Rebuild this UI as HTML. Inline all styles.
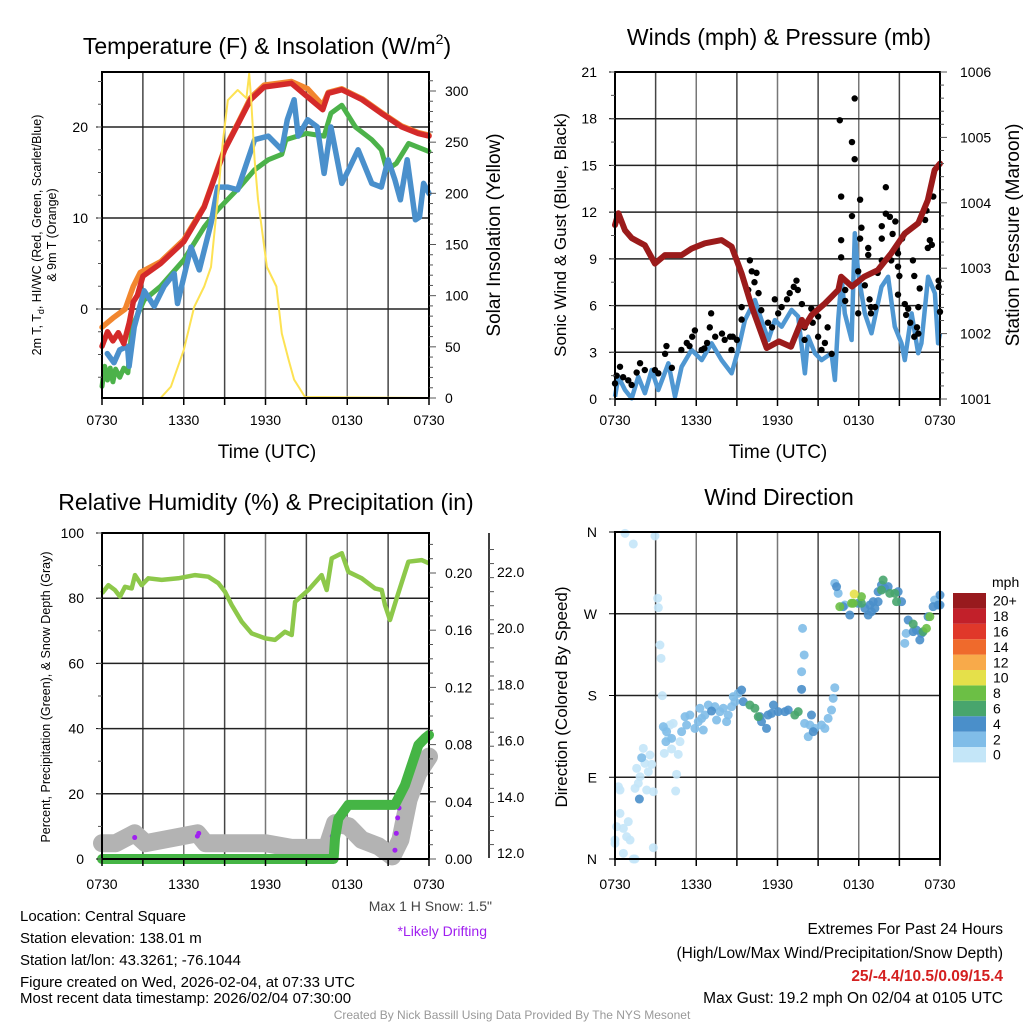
<!DOCTYPE html>
<html><head><meta charset="utf-8">
<style>
body{margin:0;background:#fff;}
svg{display:block;font-family:"Liberation Sans",sans-serif;}
</style></head>
<body>
<svg id="s" width="1024" height="1024" viewBox="0 0 1024 1024" xmlns="http://www.w3.org/2000/svg">
<rect width="1024" height="1024" fill="#fff"/>
<g id="g1"></g>
<g id="g2"></g>
<g id="g3"></g>
<g id="g4"></g>
<g id="txt">
<text x="267" y="54" font-size="23" text-anchor="middle">Temperature (F) &amp; Insolation (W/m<tspan font-size="14" dy="-10">2</tspan><tspan dy="10">)</tspan></text>
<text x="779" y="45" font-size="23" text-anchor="middle">Winds (mph) &amp; Pressure (mb)</text>
<text x="266" y="510" font-size="23" text-anchor="middle">Relative Humidity (%) &amp; Precipitation (in)</text>
<text x="779" y="505" font-size="23" text-anchor="middle">Wind Direction</text>
<text x="267" y="458" font-size="19" text-anchor="middle">Time (UTC)</text>
<text x="778" y="458" font-size="19" text-anchor="middle">Time (UTC)</text>
<text transform="translate(41,235) rotate(-90)" font-size="12.5" text-anchor="middle">2m T, T<tspan font-size="9" dy="3">d</tspan><tspan dy="-3">, HI/WC (Red, Green, Scarlet/Blue)</tspan></text>
<text transform="translate(56,235) rotate(-90)" font-size="12.5" text-anchor="middle">&amp; 9m T (Orange)</text>
<text transform="translate(500,235) rotate(-90)" font-size="19" text-anchor="middle">Solar Insolation (Yellow)</text>
<text transform="translate(566,235) rotate(-90)" font-size="17" text-anchor="middle">Sonic Wind &amp; Gust (Blue, Black)</text>
<text transform="translate(1019,235) rotate(-90)" font-size="19" text-anchor="middle">Station Pressure (Maroon)</text>
<text transform="translate(50,697) rotate(-90)" font-size="12.5" text-anchor="middle">Percent, Precipitation (Green), &amp; Snow Depth (Gray)</text>
<text transform="translate(567,697) rotate(-90)" font-size="17" text-anchor="middle">Direction (Colored By Speed)</text>
<text x="492" y="911" font-size="14" fill="#444" text-anchor="end">Max 1 H Snow: 1.5"</text>
<text x="487" y="936" font-size="14" fill="#a020f0" text-anchor="end">*Likely Drifting</text>
<g font-size="15">
<text x="20" y="921">Location: Central Square</text>
<text x="20" y="943">Station elevation: 138.01 m</text>
<text x="20" y="965">Station lat/lon: 43.3261; -76.1044</text>
<text x="20" y="987">Figure created on Wed, 2026-02-04, at 07:33 UTC</text>
<text x="20" y="1003">Most recent data timestamp: 2026/02/04 07:30:00</text>
</g>
<g font-size="15.5" text-anchor="end">
<text x="1003" y="934">Extremes For Past 24 Hours</text>
<text x="1003" y="958">(High/Low/Max Wind/Precipitation/Snow Depth)</text>
<text x="1003" y="981" font-weight="bold" fill="#d42020">25/-4.4/10.5/0.09/15.4</text>
<text x="1003" y="1003">Max Gust: 19.2 mph On 02/04 at 0105 UTC</text>
</g>
<text x="512" y="1019" font-size="12" fill="#999" text-anchor="middle">Created By Nick Bassill Using Data Provided By The NYS Mesonet</text>
</g>
</svg>
<script>
// ===== Panel 1 data =====
const tempRedT=[0,0.4,0.8,1.2,1.6,2.0,2.3,2.6,3.0,4.3,6.0,7.5,9.0,10.0,10.9,11.9,12.9,13.9,15.1,16.2,16.6,17.6,19.1,20.5,22.0,23.2,24];
const tempRedV=[-4.1,-2.5,-3.5,-2.6,-3.8,-1.5,0.8,1.5,3.6,5.0,7.4,11.2,17.5,20.4,23.0,24.4,24.6,24.8,23.3,21.9,23.7,24.1,23.0,21.5,20.0,19.3,19.0];
const tempOrangeT=[0,0.8,1.7,2.3,2.8,4.3,6.0,7.5,9.0,10.0,10.9,11.9,12.9,13.9,15.1,16.2,16.6,17.6,19.1,20.5,22.0,23.2,24];
const tempOrangeV=[-2,-1,0,2.5,4.0,5.2,7.6,11.3,17.6,20.5,23.2,24.6,24.8,25.0,24.2,22.4,23.8,24.2,23.1,21.6,20.1,19.4,19.1];
const dewT=[0,0.2,0.4,0.6,0.8,1.0,1.3,1.6,1.9,2.2,3.1,4.3,6.0,7.5,8.5,9.2,10.1,11.2,12.2,13.2,13.5,15.0,16.3,16.8,17.6,18.6,19.8,20.5,20.9,21.6,22.5,24];
const dewV=[-8.5,-6.3,-7.8,-6.5,-8.0,-6.6,-7.5,-6.5,-7.0,-2.0,1.0,2.5,5.4,9.0,10.9,12.0,13.4,15.3,16.4,17.0,18.6,19.3,19.0,21.5,22.4,20.0,18.6,17.5,15.3,16.0,18.2,17.3];
const wcT=[0.39,0.88,1.3,1.87,1.99,2.36,3.09,3.83,4.56,5.30,5.54,6.53,7.14,8.0,8.49,9.23,9.96,10.7,11.2,12.2,13.2,13.6,14.1,14.4,15.1,15.8,16.3,16.8,17.6,18.1,18.8,19.8,20.5,21.0,21.5,21.9,22.4,23.0,23.3,23.6,24];
const wcV=[-4.9,-5.9,-4.5,-4.1,-6.3,-2.0,2.0,0.3,2.5,3.9,0.6,6.8,4.3,9.4,13.4,13.4,13.1,16.4,18.6,19.0,17.5,20.8,23.0,19.0,20.8,20.0,14.9,20.0,13.8,15.3,17.5,13.8,13.4,16.4,14.2,12.0,16.4,9.8,10.1,13.8,12.7];
const solarT=[0,4.3,5.06,6.0,6.77,7.5,8.0,8.49,8.86,9.23,9.96,10.6,10.8,10.94,11.2,11.45,12.1,12.8,13.2,13.7,14.1,14.9,24];
const solarV=[0,0,11,47,89,109,128,194,249,291,301,293,317,293,233,194,128,109,63,37,18,1,0];
const timeTicks=['0730','1330','1930','0130','0730'];
const tempTicks=[0,10,20];
const solarTicks=[0,50,100,150,200,250,300];
// ===== Panel 2 data =====
const windT=[0,0.25,0.74,1.23,1.72,2.21,2.71,3.2,3.94,4.43,4.92,5.66,6.4,7.13,7.87,8.61,9.1,9.59,10.33,10.82,11.32,11.81,12.3,13.04,13.53,14.02,14.27,14.76,15.25,15.99,16.24,16.48,16.73,16.97,17.47,17.71,17.96,18.45,18.94,19.68,20.17,20.66,21.16,21.4,21.9,22.39,22.63,23.12,23.62,23.86,24];
const windV=[0.15,1.43,0.58,0.04,1.43,0.37,1.86,0.58,2.29,0.15,2.07,3.15,2.5,3.58,2.5,1.65,3.15,5.07,6.36,5.07,3.79,5.07,4.64,5.72,5.29,1.65,4.0,2.94,2.5,2.94,1.22,5.07,7.85,5.5,3.79,10.64,8.07,5.5,4.22,7.21,7.85,4.64,3.58,2.5,5.5,2.94,3.58,7.85,6.79,3.58,4.22];
const gustT=[16.6,17.7,17.5,17.7,16.7,18.1,17.5,18.2,16.7,16.7,18.1,20.0,20.0,20.3,19.7,20.5,20.7,19.7,21.2,20.8,20.9,20.4,19.7,20.9,19.4,21.0,18.7,18.7,17.96,18.45,18.9,19.2,20.9,22.0,22.1,22.5,22.9,23.0,23.1,23.4,23.25,23.5,23.9,23.9,24.0,21.4,21.65,21.5,22.4,21.8,22.3,22.4,22.1,17.0,17.0,17.96,18.8,18.9,9.96,10.1,10.45,10.3,9.84,9.35,9.35,10.6,10.8,11.3,11.6,11.8,12.05,12.3,12.7,12.9,13.2,13.4,13.5,13.8,14.5,14.0,14.6,15.0,15.5,15.7,15.25,16.0,14.0,15.0,0,0.12,0.37,0.6,0.98,1.23,1.6,1.85,2.2,2.95,3.2,3.7,3.8,4.2,4.9,5.3,5.7,5.9,6.4,6.8,7.0,7.1,7.4,7.9,8.1,8.5,8.7,9.0,8.6,6.6,5.5];
const gustV=[17.9,19.3,16.5,15.4,13.0,12.8,11.75,11.0,10.2,9.1,10.3,13.6,11.9,11.7,11.1,10.6,11.4,10.3,10.3,9.6,9.35,8.9,8.9,8.5,8.1,7.9,9.7,9.25,8.2,7.3,5.9,5.9,6.7,8.9,7.9,7.1,11.5,12.1,9.7,9.9,10.2,13.0,7.6,7.2,5.6,6.1,5.8,5.4,5.9,4.9,4.6,4.2,4.0,7.0,6.3,5.5,6.4,5.5,8.9,8.2,8.1,7.5,7.0,5.9,5.1,6.8,5.7,4.9,4.6,6.4,5.5,5.9,6.4,6.8,7.2,7.6,7.0,6.1,5.8,4.6,4.9,4.0,3.6,4.6,3.15,2.9,3.8,5.3,1.0,1.5,2.07,1.4,1.2,0.9,1.7,2.3,1.86,1.86,1.65,2.9,3.4,2.0,3.15,3.6,4.0,4.4,3.15,3.6,4.6,5.5,4.0,4.2,3.8,4.0,4.0,3.8,3.15,3.25,3.4];
const presT=[0,0.25,0.74,1.23,2.21,2.95,3.69,4.92,5.66,6.64,7.87,8.61,9.35,10.1,11.2,12.1,13.0,13.8,14.0,14.5,15.5,16.5,16.7,17.5,18.4,19.4,20.4,21.4,22.4,23.1,23.6,24];
const presV=[1003.66,1003.84,1003.58,1003.46,1003.35,1003.07,1003.20,1003.20,1003.30,1003.38,1003.43,1003.33,1002.92,1002.41,1001.78,1001.88,1001.80,1002.21,1002.11,1002.28,1002.46,1002.67,1002.87,1002.72,1002.87,1002.97,1003.23,1003.53,1003.69,1004.04,1004.50,1004.60];
const windTicks=[0,3,6,9,12,15,18,21];
const presTicks=[1001,1002,1003,1004,1005,1006];
// ===== Panel 3 data =====
const rhT=[0,0.47,0.95,1.32,1.69,2.18,2.42,2.91,3.4,4.38,5.6,6.83,7.8,8.54,9.03,9.52,10.25,10.99,11.97,12.7,13.43,13.92,14.17,15.15,16.12,16.49,16.86,17.6,18.08,19.06,20.04,20.53,20.77,21.14,21.63,22.49,23.46,24];
const rhV=[81.5,84.0,82.5,80.5,83.5,83.0,87.1,84.0,86.1,85.6,86.1,87.1,86.6,84.6,82.0,77.9,72.8,69.2,67.7,67.2,69.7,68.7,78.9,82.5,87.1,82.5,92.2,93.8,88.1,86.1,83.0,82.5,77.9,73.3,80.0,91.2,91.7,90.7];
const precipT=[0,17.0,17.1,17.35,18.08,21.5,22.24,22.73,23.22,23.7,24];
const precipV=[0,0,0.0145,0.0284,0.0378,0.0378,0.0517,0.0657,0.0797,0.0844,0.0867];
const snowT=[0,1.0,2.4,3.2,7.0,7.6,12.0,13.9,16.5,17.1,18.1,19.06,20.3,21.3,21.9,22.5,23.2,24];
const snowV=[12.35,12.35,12.7,12.35,12.7,12.35,12.35,12.18,12.18,13.06,12.95,12.47,12.24,11.88,12.47,13.9,14.84,15.43];
const driftT=[2.4,7.0,7.1,16.9,17.4,21.5,21.6,21.7,21.8];
const driftV=[12.55,12.6,12.7,12.6,13.05,12.1,12.7,13.25,13.6];
const rhTicks=[0,20,40,60,80,100];
const precipTicks=['0.00','0.04','0.08','0.12','0.16','0.20'];
const snowTicks=['12.0','14.0','16.0','18.0','20.0','22.0'];
// ===== Panel 4 data =====
const dirT=[0.74,1.35,2.95,3.15,3.2,3.32,3.4,3.49,0.25,0.37,0.37,0.12,0.62,0.98,0.86,1.11,0,0,0.62,1.35,1.48,2.83,2.83,1.72,1.48,2.34,2.46,1.6,1.85,2.09,2.58,2.71,2.21,4.55,4.48,4.67,4.18,4.8,3.64,3.69,4.06,4.3,3.94,
1.97,3.76,3.81,4.18,4.92,5.17,5.53,5.29,5.9,6.15,6.4,6.52,6.27,6.64,6.89,7.38,7.5,7.75,8.0,8.24,8.36,8.61,8.73,9.1,8.86,3.57,14.0,14.27,14.76,15.25,15.5,15.74,15.99,16.11,16.23,13.97,13.78,13.85,14.39,16.23,16.48,16.97,21.4,21.5,23.6,
1.8,7.13,9.35,9.47,10.82,11.19,11.3,11.7,11.56,12.05,12.55,12.79,13.78,14.51,14.64,10.7,16.36,16.85,17.34,17.96,18.45,18.7,18.94,19.19,18.82,19.07,19.43,19.43,19.68,19.92,20.17,20.91,21.16,21.65,22.02,22.51,22.63,23.49,23.86,24,24,22.26,23.12,
19.8,19.68,20.29,20.66,20.79,18.2,22.02,22.75,9.96,10.33,10.58,13.28,13.53,
17.59,16.6,17.47,23.0,23.25,18.2,17.66];
const dirV=[358.5,346.8,355.6,287.0,276.7,235.6,220.9,179.8,79.6,75.9,50.2,35.6,33.7,41.1,24.6,20.9,20.9,17.2,6.2,0,0,12.4,74.1,83.3,77.8,75.9,96.1,99.8,90.6,121.8,114.5,104.2,105.3,93.2,74.8,115.2,121.1,129.2,116.3,143.1,147.5,149.3,132.8,
111.5,129.2,140.2,132.8,140.2,156.7,158.5,147.5,143.8,151.2,154.8,142.0,165.9,158.5,169.5,167.7,153.0,162.2,165.9,151.2,158.5,167.7,178.7,182.4,173.2,145.7,149.3,134.7,143.8,147.5,143.8,154.8,164.0,176.9,188.6,224.6,206.2,253.9,147.5,303.5,292.5,279.6,237.4,248.4,285.1,
66.0,162.9,186.0,173.2,151.2,143.8,158.5,169.5,160.3,162.2,162.2,164.0,186.8,158.5,140.2,156.7,299.8,277.8,268.6,281.5,276.0,268.6,272.3,276.0,279.6,283.3,283.3,294.3,301.6,298.0,299.8,294.3,283.3,263.1,250.3,241.1,248.4,277.8,279.6,290.6,279.6,252.1,266.8,
307.1,296.1,292.5,292.5,283.3,281.5,258.7,250.3,169.5,165.9,156.7,158.5,162.2,
281.5,277.8,281.5,253.9,266.8,288.8,291.7];
const dirSpeed=[1,1,1,1,1,1,1,1,1,1,1,1,1,1,1,1,1,1,1,1,1,1,1,1,1,1,1,1,1,1,1,1,1,1,1,1,1,1,1,1,1,1,1,
3,3,3,3,3,3,3,3,3,3,3,3,3,3,3,3,3,3,3,3,3,3,3,3,3,3,3,3,3,3,3,3,3,3,3,3,3,3,3,3,3,3,3,3,3,
5,5,5,5,5,5,5,5,5,5,5,5,5,5,5,5,5,5,5,5,5,5,5,5,5,5,5,5,5,5,5,5,5,5,5,5,5,5,5,5,5,5,5,
7,7,7,7,7,7,7,7,7,7,7,7,7,
9,9,9,9,9,9,11];
const dirTicks=['N','E','S','W','N'];
const cbLabels=['0','2','4','6','8','10','12','14','16','18','20+'];
const cbColors=['#c4e6f8','#80bde8','#4a8fca','#48a56d','#6cbf45','#e5e04a','#f8aa4a','#ef6a2c','#e0382a','#c2202a','#981a1e'];

const NS='http://www.w3.org/2000/svg';
function mk(parent,tag,attrs){const e=document.createElementNS(NS,tag);for(const k in attrs)e.setAttribute(k,attrs[k]);parent.appendChild(e);return e;}
function lin(d0,d1,r0,r1){return v=>r0+(v-d0)/(d1-d0)*(r1-r0);}
function pathD(ts,vs,sx,sy){return ts.map((t,i)=>(i?'L':'M')+sx(t).toFixed(1)+' '+sy(vs[i]).toFixed(1)).join(' ');}

function frame(g,L,R,T,B,hgrid){
  for(let i=1;i<8;i++){const x=L+(R-L)*i/8;
    const ln=mk(g,'line',{x1:x,x2:x,y1:T,y2:B,stroke:(i%2?'#444':'#777'),'stroke-width':1.5});
    
    }
  hgrid.forEach(y=>{const ln=mk(g,'line',{x1:L,x2:R,y1:y,y2:y,stroke:'#222','stroke-width':1.5});
    
    });
}
function border(g,L,R,T,B){
  const r=mk(g,'rect',{x:L,y:T,width:R-L,height:B-T,fill:'none',stroke:'#000','stroke-width':2});
  
  
  for(let i=0;i<=8;i++){const x=L+(R-L)*i/8;mk(g,'line',{x1:x,x2:x,y1:B,y2:B+7,stroke:'#000','stroke-width':1.5});}
}
function xlabels(g,L,R,y){timeTicks.forEach((s,i)=>{const t=mk(g,'text',{x:L+(R-L)*i/4,y:y,'font-size':14,'text-anchor':'middle'});t.textContent=s;
  
  });}

// ===== Panel 1 =====
(function(){
const g=document.getElementById('g1');const L=102,R=429,T=72,B=398;
const sx=lin(0,24,L,R), sy=lin(0,10,309,218), sy2=lin(0,300,398,91);
frame(g,L,R,T,B,tempTicks.map(sy));
const add=(ts,vs,ys,col,w,name)=>{const p=mk(g,'path',{d:pathD(ts,vs,sx,ys),fill:'none',stroke:col,'stroke-width':w,'stroke-linejoin':'round','stroke-linecap':'round'});
  
  };
add(tempOrangeT,tempOrangeV,sy,'#f2862e',5.5,'9m-temp-line');
add(dewT,dewV,sy,'#4cb24a',5,'dewpoint-line');
add(wcT,wcV,sy,'#4a90cc',5.5,'windchill-line');
add(tempRedT,tempRedV,sy,'#d42a2a',5.5,'2m-temp-line');
add(solarT,solarV,sy2,'#fde253',2,'insolation-line');
border(g,L,R,T,B);
tempTicks.forEach(v=>{const y=sy(v);mk(g,'line',{x1:L-6,x2:L,y1:y,y2:y,stroke:'#000'});const t=mk(g,'text',{x:L-14,y:y+5,'font-size':14,'text-anchor':'end'});t.textContent=v;
  
  });
for(let v=-10;v<=26;v+=2.5){const y=sy(v);if(y>T&&y<B)mk(g,'line',{x1:L-4,x2:L,y1:y,y2:y,stroke:'#555'});}
for(let v=0;v<=320;v+=10){const y=sy2(v);if(y>=T){mk(g,'line',{x1:R,x2:R+(v%50?4:7),y1:y,y2:y,stroke:'#555'});}}
solarTicks.forEach(v=>{const t=mk(g,'text',{x:R+16,y:sy2(v)+5,'font-size':14});t.textContent=v;
  
  });
xlabels(g,L,R,425);
})();

// ===== Panel 2 =====
(function(){
const g=document.getElementById('g2');const L=615,R=940,T=72,B=399;
const sx=lin(0,24,L,R), sy=lin(0,21,B,T), sp=lin(1001,1006,B,T);
frame(g,L,R,T,B,windTicks.slice(1,7).map(sy));
const wl=mk(g,'path',{d:pathD(windT,windV,sx,sy),fill:'none',stroke:'#4f97d2','stroke-width':4.5,'stroke-linejoin':'round'});


gustT.forEach((t,i)=>{const c=mk(g,'circle',{cx:sx(t),cy:sy(gustV[i]),r:3.2,fill:'#000'});
  
  });
const pl=mk(g,'path',{d:pathD(presT,presV,sx,sp),fill:'none',stroke:'#9b1b1b','stroke-width':6,'stroke-linejoin':'round','stroke-linecap':'round'});


border(g,L,R,T,B);
windTicks.forEach(v=>{const y=sy(v);mk(g,'line',{x1:L-6,x2:L,y1:y,y2:y,stroke:'#000'});const t=mk(g,'text',{x:L-18,y:y+5,'font-size':14,'text-anchor':'end'});t.textContent=v;
  
  });
for(let v=0;v<=21;v+=1.5){const y=sy(v);mk(g,'line',{x1:L-4,x2:L,y1:y,y2:y,stroke:'#555'});}
for(let v=1001;v<=1006.01;v+=0.2){const y=sp(v);mk(g,'line',{x1:R,x2:R+(Math.abs(v-Math.round(v))<0.01?7:4),y1:y,y2:y,stroke:'#555'});}
presTicks.forEach(v=>{const t=mk(g,'text',{x:R+20,y:sp(v)+5,'font-size':14});t.textContent=v;
  
  });
xlabels(g,L,R,425);
})();

// ===== Panel 3 =====
(function(){
const g=document.getElementById('g3');const L=102,R=429,T=533,B=859;
const sx=lin(0,24,L,R), sy=lin(0,100,B,T), spc=lin(0,0.2,859,573), ssn=lin(12,22,853,572);
frame(g,L,R,T,B,[20,40,60,80].map(sy));
const sn=mk(g,'path',{d:pathD(snowT,snowV,sx,ssn),fill:'none',stroke:'#b3b3b3','stroke-width':18,'stroke-linejoin':'round','stroke-linecap':'round'});


driftT.forEach((t,i)=>{const c=mk(g,'circle',{cx:sx(t),cy:ssn(driftV[i]),r:2.5,fill:'#a020f0'});
  
  });
const pr=mk(g,'path',{d:pathD(precipT,precipV,sx,spc),fill:'none',stroke:'#45b545','stroke-width':10,'stroke-linejoin':'round','stroke-linecap':'round'});


const rh=mk(g,'path',{d:pathD(rhT,rhV,sx,sy),fill:'none',stroke:'#8dc84a','stroke-width':4.5,'stroke-linejoin':'round'});


border(g,L,R,T,B);
rhTicks.forEach(v=>{const y=sy(v);mk(g,'line',{x1:L-6,x2:L,y1:y,y2:y,stroke:'#000'});const t=mk(g,'text',{x:L-18,y:y+5,'font-size':14,'text-anchor':'end'});t.textContent=v;
  
  });
for(let v=0;v<=100;v+=10){mk(g,'line',{x1:L-4,x2:L,y1:sy(v),y2:sy(v),stroke:'#555'});}
for(let v=0;v<=0.225;v+=0.01){const y=spc(v);mk(g,'line',{x1:R,x2:R+(Math.round(v*100)%4?4:7),y1:y,y2:y,stroke:'#555'});}
precipTicks.forEach(s=>{const t=mk(g,'text',{x:R+16,y:spc(parseFloat(s))+5,'font-size':14});t.textContent=s;
  
  });
const ax=mk(g,'line',{x1:489,x2:489,y1:533,y2:858,stroke:'#000','stroke-width':1.5});


for(let v=11.8;v<=23.2;v+=0.5){const y=ssn(v);if(y>=533&&y<=858)mk(g,'line',{x1:489,x2:494,y1:y,y2:y,stroke:'#555'});}
snowTicks.forEach(s=>{const t=mk(g,'text',{x:497,y:ssn(parseFloat(s))+5,'font-size':14});t.textContent=s;
  
  });
xlabels(g,L,R,889);
})();

// ===== Panel 4 =====
(function(){
const g=document.getElementById('g4');const L=615,R=940,T=532,B=859;
const sx=lin(0,24,L,R), sy=lin(0,360,B,T);
frame(g,L,R,T,B,[90,180,270].map(sy));
const col=s=>cbColors[Math.min(10,Math.floor(s/2))];
dirT.forEach((t,i)=>{const c=mk(g,'circle',{cx:sx(t),cy:sy(dirV[i]),r:4.5,fill:col(dirSpeed[i]),'fill-opacity':0.9});
  
  });
border(g,L,R,T,B);
dirTicks.forEach((s,i)=>{const y=sy(i*90);mk(g,'line',{x1:L-6,x2:L,y1:y,y2:y,stroke:'#000'});const t=mk(g,'text',{x:L-18,y:y+5,'font-size':14,'text-anchor':'end'});t.textContent=s;
  
  });
xlabels(g,L,R,889);
const cb=mk(g,'g',{});


const h=15.4, top=593;
cbColors.forEach((c,i)=>{const y=top+(10-i)*h;mk(cb,'rect',{x:953,y:y,width:33,height:h,fill:c});
  const t=mk(cb,'text',{x:993,y:y+h/2+5,'font-size':14});t.textContent=cbLabels[i];
  
  });
const u=mk(cb,'text',{x:992,y:587,'font-size':14});u.textContent='mph';


})();
</script>
</body></html>
